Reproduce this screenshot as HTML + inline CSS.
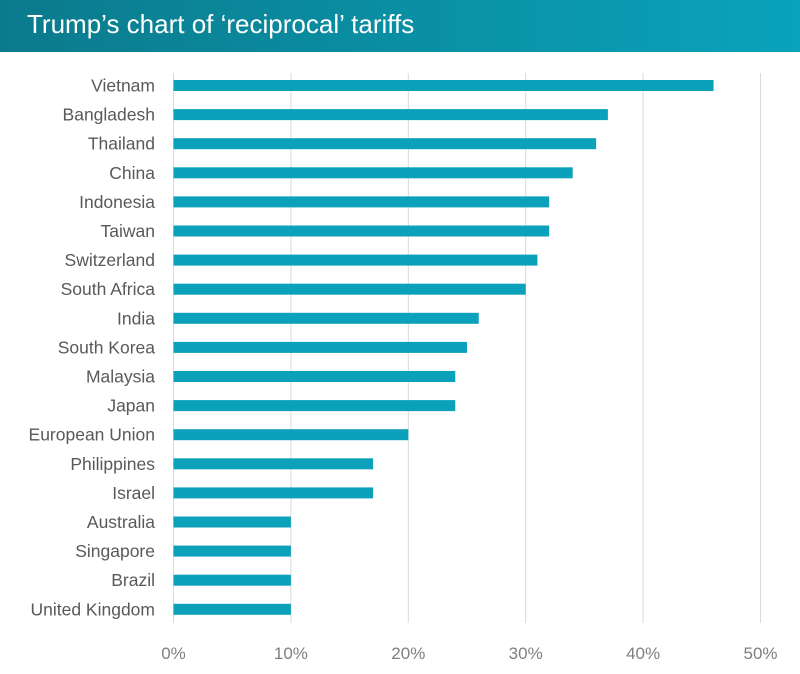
<!DOCTYPE html>
<html><head><meta charset="utf-8"><style>
body{margin:0;width:800px;height:674px;background:#fff;overflow:hidden;font-family:"Liberation Sans",sans-serif}
#hdr{position:absolute;left:0;top:0;width:800px;height:52px;background:linear-gradient(90deg,#0b7a8c,#0aa3bb)}
#hdr span{position:absolute;left:27px;top:9px;color:#fff;font-size:26px}
</style></head><body>
<div id="hdr"><span>Trump’s chart of ‘reciprocal’ tariffs</span></div>
<svg id="c" width="800" height="674" style="position:absolute;left:0;top:0"></svg>
<script>
const categories=["Vietnam","Bangladesh","Thailand","China","Indonesia","Taiwan","Switzerland","South Africa","India","South Korea","Malaysia","Japan","European Union","Philippines","Israel","Australia","Singapore","Brazil","United Kingdom"];
const values=[46,37,36,34,32,32,31,30,26,25,24,24,20,17,17,10,10,10,10];
const ticks=[0,10,20,30,40,50];
const tickLabels=["0%","10%","20%","30%","40%","50%"];
const svg=document.getElementById('c');const NS="http://www.w3.org/2000/svg";
const x=v=>173.5+v*11.74;const y=i=>85.5+i*29.1;
function mk(t,a){const e=document.createElementNS(NS,t);for(const k in a)e.setAttribute(k,a[k]);svg.appendChild(e);return e;}
ticks.forEach((t,i)=>{
const g=mk('line',{x1:x(t),x2:x(t),y1:73,y2:623,stroke:'#d9d9d9','stroke-width':1});


const l=mk('text',{x:x(t),y:659,'text-anchor':'middle','font-size':17,fill:'#7f7f7f'});l.textContent=tickLabels[i];


});
categories.forEach((c,i)=>{
const r=mk('rect',{x:x(0),y:y(i)-5.5,width:x(values[i])-x(0),height:11,fill:'#0ba1ba'});


const l=mk('text',{x:155,y:y(i)+6,'text-anchor':'end','font-size':17.5,fill:'#595959'});l.textContent=c;


});
</script>
</body></html>
